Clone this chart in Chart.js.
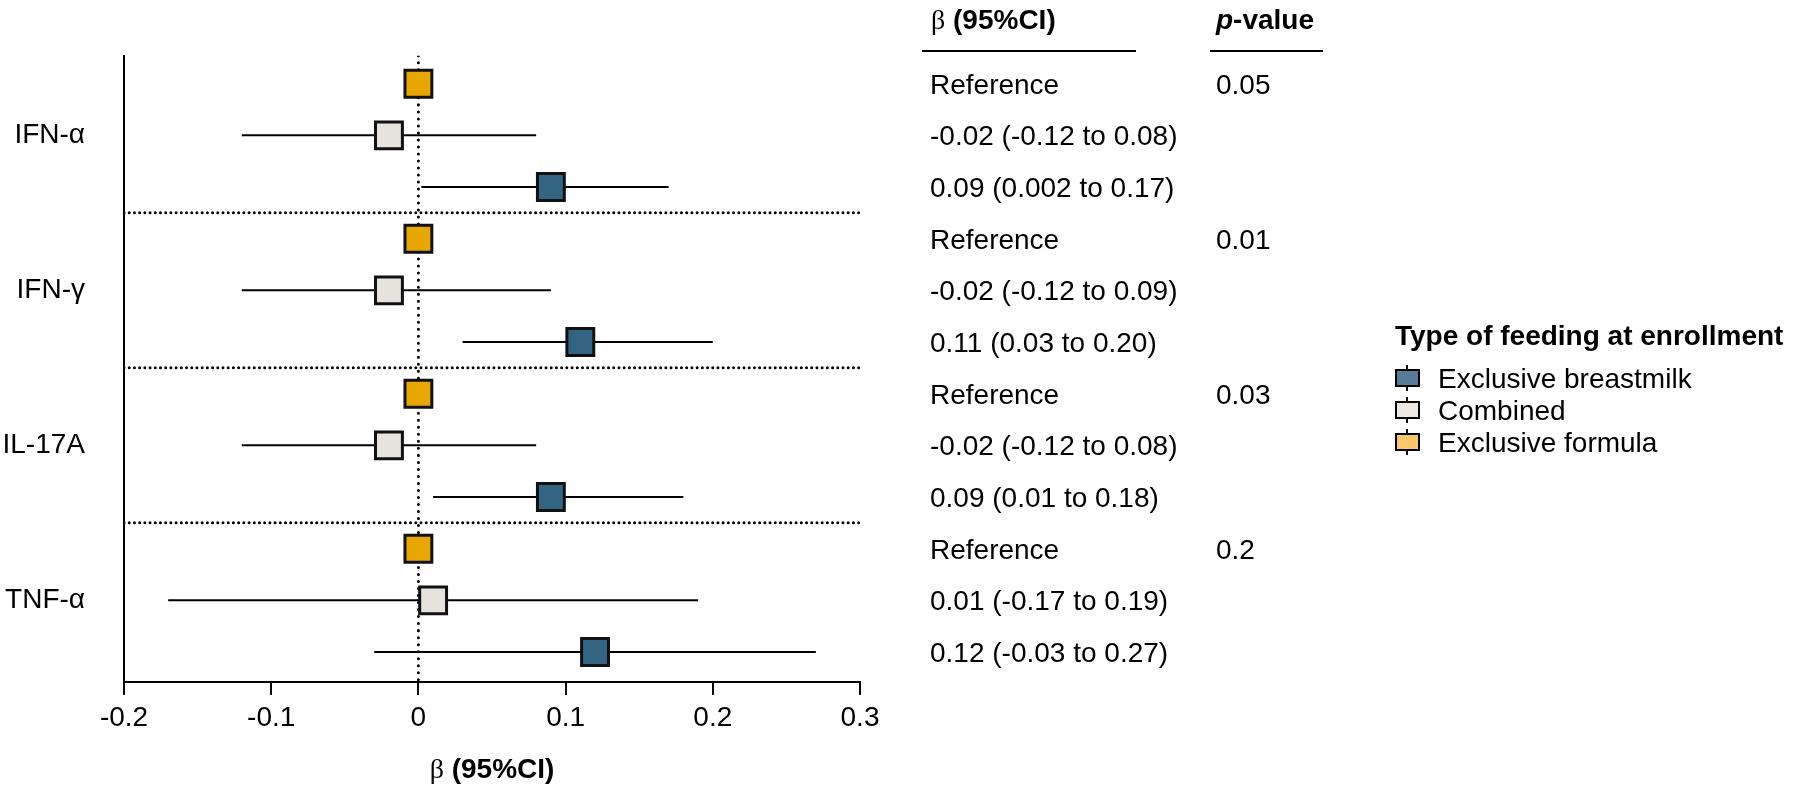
<!DOCTYPE html>
<html>
<head>
<meta charset="utf-8">
<script src="https://cdn.jsdelivr.net/npm/chart.js@4"></script>
<style>
  html, body { margin: 0; background: #fff; }
</style>
</head>
<body>
<canvas id="chart" width="1800" height="789"></canvas>
<script>
// data
const cytokines = ['IFN-α', 'IFN-γ', 'IL-17A', 'TNF-α'];
const groups = ['Exclusive breastmilk', 'Combined', 'Exclusive formula'];

const breastBeta = [0.09, 0.11, 0.09, 0.12];
const breastLow = [0.002, 0.03, 0.01, -0.03];
const breastHigh = [0.17, 0.20, 0.18, 0.27];

const combinedBeta = [-0.02, -0.02, -0.02, 0.01];
const combinedLow = [-0.12, -0.12, -0.12, -0.17];
const combinedHigh = [0.08, 0.09, 0.08, 0.19];

const formulaBeta = [0, 0, 0, 0];
const pValues = ['0.05', '0.01', '0.03', '0.2'];
const xTicks = [-0.2, -0.1, 0, 0.1, 0.2, 0.3];

const markerColors = ['#336583', '#E6E3DD', '#E8A600'];
const legendColors = ['#567B96', '#EBE8E3', '#FAC86A'];

const SANS = '"Liberation Sans", Arial, sans-serif';
const SERIF = '"Liberation Serif", "Times New Roman", serif';

// rows: formula on top, combined, breastmilk at the bottom of each block
const rowOf = (i, k) => 3 * i + k;
const ciText = (b, lo, hi) => b.toFixed(2) + ' (' + lo + ' to ' + hi.toFixed(2) + ')';

const datasets = [];

// dotted reference line at 0
datasets.push({
    data: [{x: 0, y: -0.54}, {x: 0, y: 11.58}],
    showLine: true, borderColor: '#000', borderWidth: 3,
    borderDash: [0.01, 7], borderCapStyle: 'round',
    pointRadius: 0, order: 10
});

// dotted separators between cytokines
[2.5, 5.5, 8.5].forEach(v => {
    datasets.push({
        data: [{x: -0.2, y: v}, {x: 0.3, y: v}],
        showLine: true, borderColor: '#000', borderWidth: 3,
        borderDash: [0.01, 5.2], borderCapStyle: 'round',
        pointRadius: 0, order: 10
    });
});

// confidence intervals
cytokines.forEach((c, i) => {
    datasets.push({
        data: [{x: combinedLow[i], y: rowOf(i, 1)}, {x: combinedHigh[i], y: rowOf(i, 1)}],
        showLine: true, borderColor: '#000', borderWidth: 2, pointRadius: 0, order: 5
    });
    datasets.push({
        data: [{x: breastLow[i], y: rowOf(i, 2)}, {x: breastHigh[i], y: rowOf(i, 2)}],
        showLine: true, borderColor: '#000', borderWidth: 2, pointRadius: 0, order: 5
    });
});

// point estimates
const estimates = [breastBeta, combinedBeta, formulaBeta];
const rowOffset = [2, 1, 0];
groups.forEach((g, k) => {
    datasets.push({
        label: g,
        data: estimates[k].map((b, i) => ({x: b, y: rowOf(i, rowOffset[k])})),
        pointStyle: 'rect', pointRadius: 19, pointHoverRadius: 19,
        backgroundColor: markerColors[k], borderColor: '#111', borderWidth: 3,
        order: 1
    });
});

function drawParts(ctx, parts, x, y, align) {
    let total = 0;
    parts.forEach(p => { ctx.font = p.font; total += ctx.measureText(p.text).width; });
    let cx = align === 'center' ? x - total / 2 : x;
    ctx.textAlign = 'left';
    parts.forEach(p => {
        ctx.font = p.font;
        ctx.fillText(p.text, cx, y);
        cx += ctx.measureText(p.text).width;
    });
}

const overlay = {
    id: 'overlay',
    afterDraw(chart) {
        const {ctx, scales: {x, y}, chartArea} = chart;
        ctx.save();
        ctx.fillStyle = '#000';
        ctx.strokeStyle = '#000';
        ctx.textBaseline = 'alphabetic';

        // table of estimates
        ctx.font = '28px ' + SANS;
        ctx.textAlign = 'left';
        cytokines.forEach((c, i) => {
            const rows = ['Reference',
                ciText(combinedBeta[i], combinedLow[i], combinedHigh[i]),
                ciText(breastBeta[i], breastLow[i], breastHigh[i])];
            rows.forEach((t, k) => ctx.fillText(t, 930, y.getPixelForValue(rowOf(i, k)) + 10));
            ctx.fillText(pValues[i], 1216, y.getPixelForValue(rowOf(i, 0)) + 10);
        });

        // table headers
        drawParts(ctx, [
            {text: 'β', font: '28px ' + SERIF},
            {text: ' (95%CI)', font: 'bold 28px ' + SANS}
        ], 931, 29);
        drawParts(ctx, [
            {text: 'p', font: 'italic bold 28px ' + SANS},
            {text: '-value', font: 'bold 28px ' + SANS}
        ], 1216, 29);
        ctx.lineWidth = 2;
        ctx.beginPath();
        ctx.moveTo(922, 51); ctx.lineTo(1136, 51);
        ctx.moveTo(1210, 51); ctx.lineTo(1323, 51);
        ctx.stroke();

        // x axis title
        drawParts(ctx, [
            {text: 'β', font: '28px ' + SERIF},
            {text: ' (95%CI)', font: 'bold 28px ' + SANS}
        ], (chartArea.left + chartArea.right) / 2, 778, 'center');

        // legend
        ctx.font = 'bold 28px ' + SANS;
        ctx.textAlign = 'left';
        ctx.fillText('Type of feeding at enrollment', 1395, 345);
        groups.forEach((g, k) => {
            const yc = 378 + k * 32;
            ctx.lineWidth = 2;
            ctx.beginPath();
            ctx.moveTo(1407, yc - 13); ctx.lineTo(1407, yc + 13);
            ctx.stroke();
            ctx.fillStyle = legendColors[k];
            ctx.fillRect(1396, yc - 8, 23, 16);
            ctx.strokeRect(1396, yc - 8, 23, 16);
            ctx.fillStyle = '#000';
            ctx.font = '28px ' + SANS;
            ctx.fillText(g, 1438, yc + 10);
        });
        ctx.restore();
    }
};

new Chart(document.getElementById('chart'), {
    type: 'scatter',
    data: {datasets: datasets},
    options: {
        responsive: false,
        animation: false,
        events: [],
        layout: {padding: {top: 53, right: 940, bottom: 0, left: 0}},
        plugins: {legend: {display: false}, tooltip: {enabled: false}},
        scales: {
            x: {
                type: 'linear', min: -0.2, max: 0.3,
                afterBuildTicks: s => { s.ticks = xTicks.map(v => ({value: v})); },
                afterFit: s => { s.height = 107; },
                ticks: {
                    color: '#000', padding: 6,
                    font: {family: SANS, size: 28},
                    callback: v => String(Number(v.toFixed(1)))
                },
                grid: {drawOnChartArea: false, color: '#000', lineWidth: 2, tickLength: 13},
                border: {display: true, color: '#000', width: 2}
            },
            y: {
                type: 'linear', reverse: true, min: -0.54, max: 11.58,
                afterBuildTicks: s => { s.ticks = cytokines.map((c, i) => ({value: rowOf(i, 1)})); },
                afterFit: s => { s.width = 124; },
                ticks: {
                    color: '#000', padding: 39,
                    font: {family: SANS, size: 28},
                    callback: v => cytokines[(v - 1) / 3]
                },
                grid: {drawOnChartArea: false, drawTicks: false},
                border: {display: true, color: '#000', width: 2}
            }
        }
    },
    plugins: [overlay]
});
</script>
</body>
</html>
